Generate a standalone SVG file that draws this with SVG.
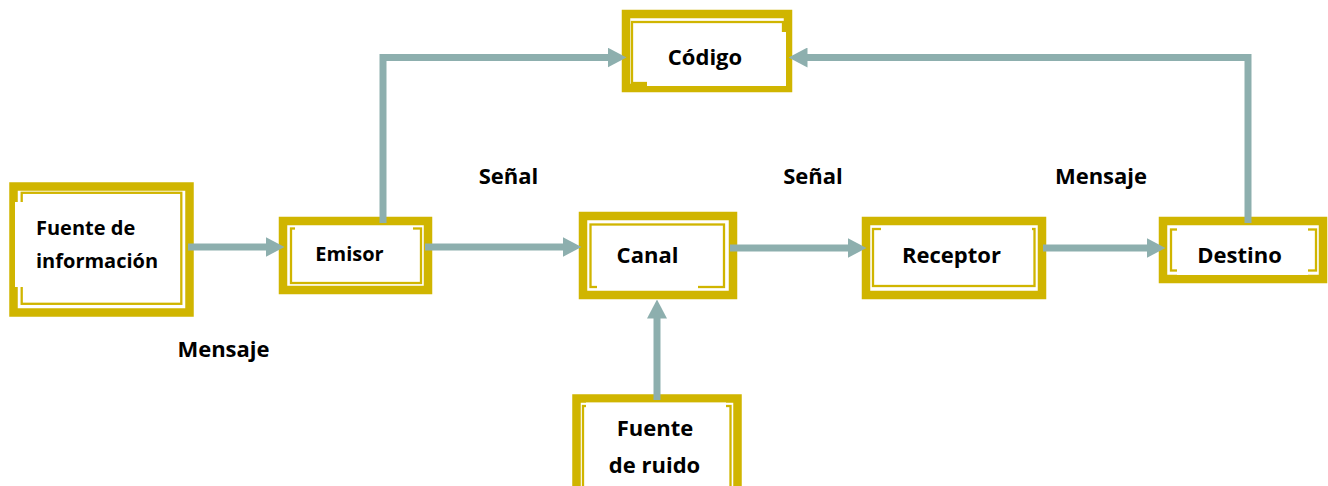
<svg xmlns="http://www.w3.org/2000/svg" width="1328" height="486" viewBox="0 0 1328 486">
<style>
.outer{fill:#ffffff;stroke:#D0B500;stroke-width:8.5}
.inner{fill:none;stroke:#D0B500;stroke-width:2.3}
.cover{fill:#ffffff;stroke:none}
.t{font-family:"Open Sans","Liberation Sans",sans-serif;font-weight:bold;font-size:22px;fill:#000000;text-anchor:middle}
.s{font-size:20px}
.conn{fill:none;stroke:#8DAFAE;stroke-width:7;stroke-linejoin:miter}
</style>
<defs>
<marker id="ah" markerUnits="userSpaceOnUse" markerWidth="19" markerHeight="20" viewBox="0 0 19 20" refX="0.5" refY="10" orient="auto">
<path d="M0,0 L19,10 L0,20 z" fill="#8DAFAE"/>
</marker>
</defs>
<rect width="1328" height="486" fill="#ffffff"/>

<g id="fuente-informacion">
<rect class="outer" x="13.5" y="186.5" width="176" height="126"/>
<rect class="inner" x="21.7" y="192.8" width="159.6" height="111"/>
<rect class="cover" x="15" y="202" width="150" height="85"/>
<text class="t s" x="36" y="235" style="text-anchor:start">Fuente de</text>
<text class="t s" x="36" y="268" style="text-anchor:start">información</text>
</g>

<g id="emisor">
<rect class="outer" x="283" y="221" width="145" height="69"/>
<rect class="inner" x="291" y="228.5" width="130" height="54.5"/>
<rect class="cover" x="295" y="226.5" width="118" height="50"/>
<text class="t s" x="349.5" y="261">Emisor</text>
</g>

<g id="codigo">
<rect class="outer" x="626" y="14" width="162" height="74"/>
<rect class="inner" x="632" y="22" width="151" height="61"/>
<rect class="cover" x="647" y="32" width="139" height="54"/>
<text class="t" x="705" y="65">Código</text>
</g>

<g id="canal">
<rect class="outer" x="583" y="216" width="150" height="79"/>
<rect class="inner" x="590.5" y="224.5" width="133.5" height="62.5"/>
<rect class="cover" x="597" y="230" width="101" height="59"/>
<text class="t" x="647.5" y="263">Canal</text>
</g>

<g id="receptor">
<rect class="outer" x="866" y="221" width="176" height="74"/>
<rect class="inner" x="873" y="229" width="161.5" height="57"/>
<rect class="cover" x="881" y="226.5" width="151" height="54"/>
<text class="t" x="951.5" y="263">Receptor</text>
</g>

<g id="destino">
<rect class="outer" x="1163" y="221" width="160" height="58"/>
<rect class="inner" x="1171" y="229.5" width="145" height="41"/>
<rect class="cover" x="1177" y="226" width="131" height="49"/>
<text class="t" x="1239.5" y="263">Destino</text>
</g>

<g id="fuente-ruido">
<rect class="outer" x="576.5" y="398.5" width="161" height="120"/>
<rect class="inner" x="583" y="406" width="147.5" height="110"/>
<rect class="cover" x="586" y="402.5" width="140" height="100"/>
<text class="t" x="655" y="436">Fuente</text>
<text class="t" x="654.5" y="473">de ruido</text>
</g>

<g id="labels">
<text class="t" x="508.5" y="184">Señal</text>
<text class="t" x="813" y="184">Señal</text>
<text class="t" x="1101" y="184">Mensaje</text>
<text class="t" x="223.5" y="357">Mensaje</text>
</g>

<g id="connectors">
<path class="conn" d="M188,247 H266" marker-end="url(#ah)"/>
<path class="conn" d="M425,247 H563" marker-end="url(#ah)"/>
<path class="conn" d="M730,248 H848" marker-end="url(#ah)"/>
<path class="conn" d="M1043,248 H1147" marker-end="url(#ah)"/>
<path class="conn" d="M383,223 V57.5 H608" marker-end="url(#ah)"/>
<path class="conn" d="M1248,223 V57.5 H807" marker-end="url(#ah)"/>
<path class="conn" d="M657,400 V318" marker-end="url(#ah)"/>
</g>
</svg>
